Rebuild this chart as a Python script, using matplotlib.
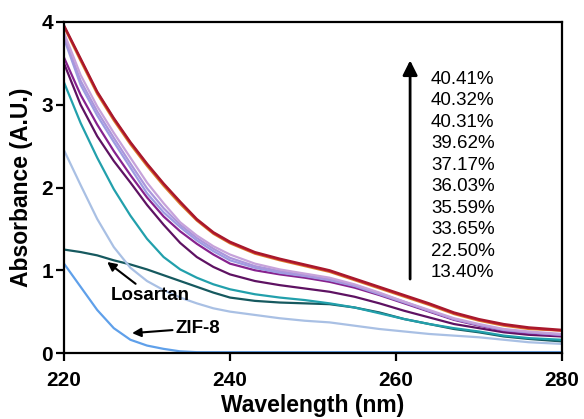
import matplotlib
matplotlib.use('Agg')
import matplotlib.pyplot as plt

plt.rcParams['font.family'] = ['Liberation Sans', 'DejaVu Sans']

wl = [220, 222, 224, 226, 228, 230, 232, 234, 236, 238, 240, 243, 246, 249,
      252, 255, 258, 261, 264, 267, 270, 273, 276, 280]

zif8 = [1.08, 0.80, 0.52, 0.30, 0.16, 0.09, 0.05, 0.02, 0.01, 0.01, 0.01, 0.01,
        0.01, 0.01, 0.01, 0.01, 0.01, 0.01, 0.01, 0.01, 0.01, 0.01, 0.01, 0.01]
losartan = [1.25, 1.22, 1.18, 1.12, 1.07, 1.01, 0.94, 0.87, 0.80, 0.73, 0.67, 0.63,
            0.61, 0.60, 0.59, 0.55, 0.49, 0.41, 0.35, 0.29, 0.25, 0.20, 0.17, 0.14]

a1340 = [2.45, 2.03, 1.62, 1.28, 1.03, 0.87, 0.76, 0.67, 0.60, 0.54, 0.50, 0.46,
         0.42, 0.39, 0.37, 0.33, 0.29, 0.26, 0.23, 0.21, 0.19, 0.16, 0.13, 0.11]
a2250 = [3.27, 2.78, 2.36, 1.98, 1.66, 1.38, 1.16, 1.01, 0.91, 0.83, 0.77, 0.71,
         0.67, 0.64, 0.60, 0.55, 0.48, 0.41, 0.35, 0.30, 0.26, 0.21, 0.18, 0.16]
a3365 = [3.50, 3.00, 2.62, 2.32, 2.06, 1.79, 1.55, 1.33, 1.16, 1.04, 0.95, 0.87,
         0.82, 0.78, 0.74, 0.68, 0.60, 0.51, 0.43, 0.35, 0.30, 0.25, 0.22, 0.20]
a3559 = [3.57, 3.12, 2.76, 2.44, 2.15, 1.88, 1.65, 1.47, 1.32, 1.19, 1.08, 1.00,
         0.95, 0.91, 0.86, 0.79, 0.70, 0.60, 0.50, 0.40, 0.33, 0.27, 0.24, 0.21]
a3603 = [3.80, 3.24, 2.87, 2.55, 2.24, 1.93, 1.70, 1.52, 1.36, 1.23, 1.12, 1.03,
         0.97, 0.93, 0.88, 0.81, 0.71, 0.61, 0.51, 0.41, 0.34, 0.28, 0.25, 0.22]
a3717 = [3.83, 3.29, 2.92, 2.60, 2.29, 1.99, 1.75, 1.55, 1.39, 1.26, 1.15, 1.05,
         0.99, 0.94, 0.89, 0.82, 0.72, 0.62, 0.51, 0.41, 0.34, 0.28, 0.25, 0.22]
a3962 = [3.87, 3.36, 2.98, 2.66, 2.36, 2.06, 1.81, 1.58, 1.42, 1.29, 1.19, 1.08,
         1.01, 0.96, 0.91, 0.83, 0.73, 0.62, 0.52, 0.42, 0.35, 0.29, 0.26, 0.23]
a4031 = [3.94, 3.53, 3.13, 2.81, 2.52, 2.26, 2.02, 1.80, 1.60, 1.44, 1.325, 1.20,
         1.12, 1.05, 0.98, 0.88, 0.78, 0.68, 0.58, 0.47, 0.39, 0.33, 0.29, 0.27]
a4032 = [3.95, 3.55, 3.15, 2.83, 2.54, 2.28, 2.04, 1.82, 1.61, 1.45, 1.335, 1.21,
         1.13, 1.06, 0.99, 0.89, 0.79, 0.69, 0.59, 0.48, 0.40, 0.34, 0.30, 0.27]
a4041 = [3.96, 3.56, 3.16, 2.84, 2.55, 2.29, 2.05, 1.83, 1.62, 1.46, 1.345, 1.22,
         1.14, 1.07, 1.00, 0.90, 0.80, 0.70, 0.60, 0.49, 0.41, 0.35, 0.31, 0.28]

loaded = [a1340, a2250, a3365, a3559, a3603, a3717, a3962, a4031, a4032, a4041]
loaded_colors = ['#a9c0e4', '#22a0ac', '#5e1262', '#87228e', '#9d9de2',
                 '#ab96dc', '#c6a2da', '#d8842e', '#c22030', '#a8182c']
pct_labels = ['40.41%', '40.32%', '40.31%', '39.62%', '37.17%',
              '36.03%', '35.59%', '33.65%', '22.50%', '13.40%']

fig = plt.figure(figsize=(5.84, 4.19), dpi=100)
ax = fig.add_axes([0.1096, 0.1575, 0.8527, 0.79])

ax.plot(wl, zif8, color='#5fa0ea', lw=1.6)
ax.plot(wl, losartan, color='#16595f', lw=1.6)
for vals, c in zip(loaded, loaded_colors):
    ax.plot(wl, vals, color=c, lw=1.6)

ax.set_xlim(220, 280)
ax.set_ylim(0, 4)
ax.set_xticks([220, 240, 260, 280])
ax.set_yticks([0, 1, 2, 3, 4])
for s in ax.spines.values():
    s.set_linewidth(1.6)
ax.tick_params(width=1.6, length=6, labelsize=15)
ax.tick_params(axis='x', pad=7)
ax.tick_params(axis='y', pad=2)
for t in ax.get_xticklabels() + ax.get_yticklabels():
    t.set_fontweight('bold')

ax.set_xlabel('Wavelength (nm)', fontsize=16.5, fontweight='bold', labelpad=3)
ax.set_ylabel('Absorbance (A.U.)', fontsize=16.5, fontweight='bold', labelpad=6)

# annotations
ax.annotate('', xy=(261.7, 3.57), xytext=(261.7, 0.86),
            arrowprops=dict(arrowstyle='-|>', lw=2, color='k', mutation_scale=22))
for i, lab in enumerate(pct_labels):
    ax.text(264.2, 3.31 - i * 0.26, lab, fontsize=13.5, va='center', ha='left')

ax.annotate('Losartan', xy=(225.2, 1.10), xytext=(230.4, 0.70),
            fontsize=13.5, fontweight='bold', ha='center', va='center',
            arrowprops=dict(arrowstyle='-|>', lw=1.5, color='k', mutation_scale=13,
                            shrinkA=0, shrinkB=0))
ax.annotate('ZIF-8', xy=(228.2, 0.24), xytext=(236.1, 0.30),
            fontsize=13.5, fontweight='bold', ha='center', va='center',
            arrowprops=dict(arrowstyle='-|>', lw=1.5, color='k', mutation_scale=13,
                            shrinkA=0, shrinkB=0))

plt.savefig('out.png', dpi=100)
